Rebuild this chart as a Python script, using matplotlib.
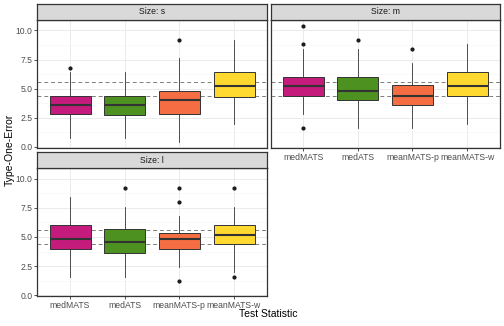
import matplotlib
matplotlib.use("Agg")
import matplotlib.pyplot as plt
import numpy as np

plt.rcParams['font.family'] = ['Liberation Sans', 'DejaVu Sans']

# data: box statistics
tests = ['medMATS', 'medATS', 'meanMATS-p', 'meanMATS-w']
colors = ['#C51B7D', '#4D9221', '#F46D43', '#FFD92F']
sizes = ['s', 'm', 'l']

q1 = {'s': [2.8, 2.7, 2.8, 4.3],
      'm': [4.4, 4.0, 3.6, 4.4],
      'l': [4.0, 3.6, 4.0, 4.4]}
med = {'s': [3.6, 3.6, 4.0, 5.2],
       'm': [5.2, 4.8, 4.4, 5.2],
       'l': [4.8, 4.6, 4.8, 5.2]}
q3 = {'s': [4.4, 4.4, 4.8, 6.4],
      'm': [6.0, 6.0, 5.3, 6.4],
      'l': [6.0, 5.7, 5.3, 6.0]}
whislo = {'s': [0.8, 0.8, 0.4, 2.0],
          'm': [2.8, 1.6, 1.6, 2.0],
          'l': [1.6, 1.6, 2.4, 2.0]}
whishi = {'s': [6.4, 6.4, 7.6, 9.2],
          'm': [8.4, 8.4, 7.2, 8.8],
          'l': [8.4, 7.6, 6.8, 7.6]}
fliers = {'s': [[6.8], [], [9.2], []],
          'm': [[10.4, 8.8, 1.6], [9.2], [8.4], []],
          'l': [[], [9.2], [9.2, 8.0, 1.2], [9.2, 1.6]]}
ref_lines = [4.4, 5.6]

W, H = 504, 326
fig = plt.figure(figsize=(W / 100, H / 100), dpi=100)

# panel boxes in pixels: (left, right, axis top, axis bottom, strip top)
panels = {'s': (37.2, 266.8, 20.0, 148.0, 4.0),
          'm': (270.5, 499.8, 20.0, 148.0, 4.0),
          'l': (37.2, 266.8, 168.3, 296.3, 152.3)}

dark = '#333333'
for sz in sizes:
    l, r, t, b, st = panels[sz]
    ax = fig.add_axes([l / W, 1 - b / H, (r - l) / W, (b - t) / H])
    ax.set_facecolor('white')

    stats = []
    for i in range(4):
        stats.append(dict(q1=q1[sz][i], med=med[sz][i], q3=q3[sz][i],
                          whislo=whislo[sz][i], whishi=whishi[sz][i],
                          fliers=fliers[sz][i]))
    bp = ax.bxp(stats, positions=range(1, 5), widths=0.75, patch_artist=True,
                showcaps=False,
                boxprops=dict(edgecolor=dark, linewidth=0.7),
                medianprops=dict(color=dark, linewidth=1.5),
                whiskerprops=dict(color=dark, linewidth=0.6),
                flierprops=dict(marker='o', markersize=2.0, markerfacecolor='#1a1a1a',
                                markeredgecolor='#1a1a1a'))
    for patch, c in zip(bp['boxes'], colors):
        patch.set_facecolor(c)
        patch.set_zorder(3)
    for m in bp['medians']:
        m.set_zorder(4)
    for y in ref_lines:
        ax.axhline(y, color='#7F7F7F', lw=0.7, ls=(0, (4, 3)), zorder=2.5)

    ax.set_xlim(0.4, 4.6)
    ax.set_ylim(-0.1, 10.9)
    ax.set_yticks([0, 2.5, 5, 7.5, 10])
    ax.set_yticklabels(['0.0', '2.5', '5.0', '7.5', '10.0'])
    ax.set_yticks([1.25, 3.75, 6.25, 8.75], minor=True)
    ax.set_xticks(range(1, 5))
    ax.set_xticklabels(tests)
    ax.grid(True, which='major', color='#EBEBEB', lw=0.7)
    ax.grid(True, which='minor', axis='y', color='#F5F5F5', lw=0.4)
    ax.set_axisbelow(True)
    for sp in ax.spines.values():
        sp.set_color(dark)
        sp.set_linewidth(0.9)
        sp.set_zorder(6)
    ax.tick_params(axis='both', which='major', length=2, width=0.6, color=dark,
                   labelsize=6.2, labelcolor='#4D4D4D', pad=1.5)
    ax.tick_params(axis='y', which='minor', length=0)
    if sz == 's':
        ax.tick_params(axis='x', length=0, labelbottom=False)
    if sz == 'm':
        ax.tick_params(axis='y', length=0, labelleft=False)

    # strip
    sax = fig.add_axes([l / W, 1 - t / H, (r - l) / W, (t - st) / H])
    sax.set_facecolor('#D9D9D9')
    sax.set_xticks([])
    sax.set_yticks([])
    for sp in sax.spines.values():
        sp.set_color(dark)
        sp.set_linewidth(0.9)
    sax.text(0.5, 0.5, 'Size: ' + sz, ha='center', va='center', fontsize=6.2,
             color='#1A1A1A', transform=sax.transAxes)

fig.text(268 / W, 1 - 314 / H, 'Test Statistic', ha='center', va='center', fontsize=7.5)
fig.text(10 / W, 1 - 150 / H, 'Type-One-Error', ha='center', va='center', fontsize=7.5,
         rotation=90)

fig.savefig('out.png', dpi=100)
